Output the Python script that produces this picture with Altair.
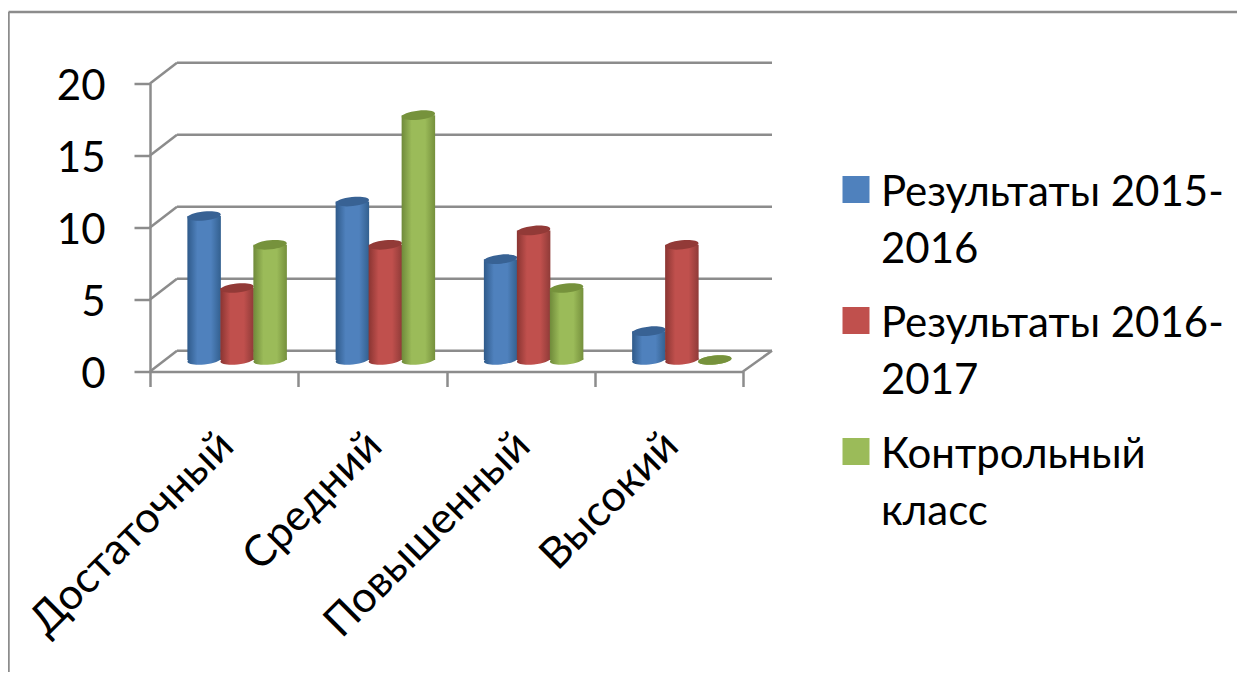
import math
import altair as alt
import pandas as pd

CATEGORIES = ["Достаточный", "Средний", "Повышенный", "Высокий"]
SERIES = ["Результаты 2015-2016", "Результаты 2016-2017", "Контрольный класс"]
S1 = [10, 5, 8]
S2 = [11, 8, 17]
S3 = [7, 9, 5]
S4 = [2, 8, 0]
ROWS = [S1, S2, S3, S4]
LEVELS = [0, 5, 10, 15, 20]
MAIN = ["#4f81bd", "#c0504d", "#9bbb59"]
EDGE_L = ["#2f5a8a", "#8a3532", "#6f8a3a"]
EDGE_R = ["#33608f", "#8f3b38", "#75903c"]
CAP = ["#386294", "#923a37", "#76923c"]
BAR_OFFSETS = [-20, 13, 46]
FONT = "Lato"
GREY = "#8c8c8c"

df = pd.DataFrame(
    [{"cat": c, "series": s, "v": ROWS[i][j], "z": 0} for i, c in enumerate(CATEGORIES) for j, s in enumerate(SERIES)]
)
levels = pd.DataFrame({"v": LEVELS})


def ellipse(ry=0.27, tilt=-6):
    k = 0.5523
    t = math.radians(tilt)
    def p(x, y):
        return f"{x*math.cos(t)-y*math.sin(t):.4f},{x*math.sin(t)+y*math.cos(t):.4f}"
    return (
        f"M{p(-1,0)}C{p(-1,-k*ry)} {p(-k,-ry)} {p(0,-ry)}"
        f"C{p(k,-ry)} {p(1,-k*ry)} {p(1,0)}"
        f"C{p(1,k*ry)} {p(k,ry)} {p(0,ry)}"
        f"C{p(-k,ry)} {p(-1,k*ry)} {p(-1,0)}Z"
    )


ELL = ellipse()
BASE_DY = -11.5
BAR_W = 33.5

X = alt.X(
    "cat:N",
    sort=CATEGORIES,
    scale=alt.Scale(paddingInner=0, paddingOuter=0),
    title=None,
    axis=alt.Axis(
        tickBand="extent", labelAngle=-45, labelAlign="right", labelBaseline="middle",
        labelFontSize=43, labelFont=FONT, labelColor="#000000", labelPadding=50, labelLimit=500,
        tickSize=15, tickColor=GREY, tickWidth=2.5, domainColor=GREY, domainWidth=2.5, grid=False,
    ),
)
Y_SCALE = alt.Scale(domain=[0, 20], nice=False)
Y_AXIS = alt.Axis(
    values=LEVELS, labelFontSize=42, labelFont=FONT, labelColor="#000000", labelPadding=29,
    tickSize=16, tickColor=GREY, tickWidth=2.5, domainColor=GREY, domainWidth=2.5, grid=False,
)
Y = alt.Y("v:Q", stack=None, scale=Y_SCALE, title=None, axis=Y_AXIS)
Y_FOOT = alt.Y("z:Q", stack=None, scale=Y_SCALE, title=None, axis=Y_AXIS)

layers = []

# back-wall grid lines and side-wall diagonals
layers.append(
    alt.Chart(levels).mark_rule(color=GREY, strokeWidth=2.5, yOffset=-20.8, y2Offset=-20.8).encode(
        y=Y,
        x=alt.value(27), x2=alt.value(622),
    )
)
layers.append(
    alt.Chart(levels).transform_calculate(v2="datum.v + 20.8 / 14.4").mark_rule(color=GREY, strokeWidth=2.5).encode(
        y=Y, y2="v2:Q",
        x=alt.value(0), x2=alt.value(27),
    )
)
layers.append(
    alt.Chart(pd.DataFrame({"v": [0]})).transform_calculate(v2="datum.v + 20.8 / 14.4").mark_rule(color=GREY, strokeWidth=2.5).encode(
        y=Y, y2="v2:Q",
        x=alt.value(593), x2=alt.value(622),
    )
)

# page frame (top and left only)
layers.append(
    alt.Chart(pd.DataFrame({"a": [0]})).mark_rule(color=GREY, strokeWidth=2.5).encode(
        x=alt.value(-141.5), x2=alt.value(1087), y=alt.value(-71.5), y2=alt.value(-71.5)
    )
)
layers.append(
    alt.Chart(pd.DataFrame({"a": [0]})).mark_rule(color=GREY, strokeWidth=2.5).encode(
        x=alt.value(-141.5), x2=alt.value(-141.5), y=alt.value(-71.5), y2=alt.value(596)
    )
)

for i, s in enumerate(SERIES):
    d = df[df.series == s]
    grad = alt.Gradient(
        gradient="linear", x1=0, x2=1, y1=0, y2=0,
        stops=[
            alt.GradientStop(color=EDGE_L[i], offset=0),
            alt.GradientStop(color=MAIN[i], offset=0.3),
            alt.GradientStop(color=MAIN[i], offset=0.7),
            alt.GradientStop(color=EDGE_R[i], offset=1),
        ],
    )
    off = BAR_OFFSETS[i]
    # cylinder foot
    layers.append(
        alt.Chart(d).mark_point(
            shape=ELL, size=BAR_W ** 2, filled=True, fill=grad, opacity=1, strokeWidth=0,
            xOffset=off, yOffset=BASE_DY,
        ).encode(x=X, y=Y_FOOT)
    )
    # cylinder body
    layers.append(
        alt.Chart(d).mark_bar(
            width=BAR_W, fill=grad, xOffset=off, yOffset=BASE_DY, y2Offset=BASE_DY,
        ).encode(x=X, y=Y, y2="z:Q")
    )
    # cylinder top
    layers.append(
        alt.Chart(d).mark_point(
            shape=ELL, size=BAR_W ** 2, filled=True, fill=CAP[i], opacity=1, strokeWidth=0,
            xOffset=off, yOffset=BASE_DY,
        ).encode(x=X, y=Y)
    )

# legend carrier
layers.append(
    alt.Chart(df).mark_bar(opacity=0, width=1).encode(
        x=X,
        y=Y,
        y2="z:Q",
        color=alt.Color(
            "series:N",
            sort=SERIES,
            scale=alt.Scale(domain=SERIES, range=MAIN),
            legend=alt.Legend(
                title=None, orient="none", legendX=685, legendY=85,
                symbolType="square", symbolSize=729, symbolStrokeWidth=0, symbolOpacity=1,
                labelFont=FONT, labelFontSize=42, labelColor="#000000", labelLimit=500,
                labelOffset=4, rowPadding=29,
                labelExpr="datum.label == 'Результаты 2015-2016' ? ['Результаты 2015-', '2016'] : datum.label == 'Результаты 2016-2017' ? ['Результаты 2016-', '2017'] : ['Контрольный', 'класс']",
            ),
        ),
    )
)

chart = (
    alt.layer(*layers)
    .properties(
        width=593,
        height=288,
        padding={"left": 142, "top": 75.5, "right": 494, "bottom": 300.5},
        autosize=alt.AutoSizeParams(type="none"),
        background="#ffffff",
    )
    .configure_view(stroke=None)
)
chart.config.style = {"guide-label": {"lineHeight": 57, "dy": 3}}

chart.save("out.html", embed_options={"renderer": "svg", "actions": False})
